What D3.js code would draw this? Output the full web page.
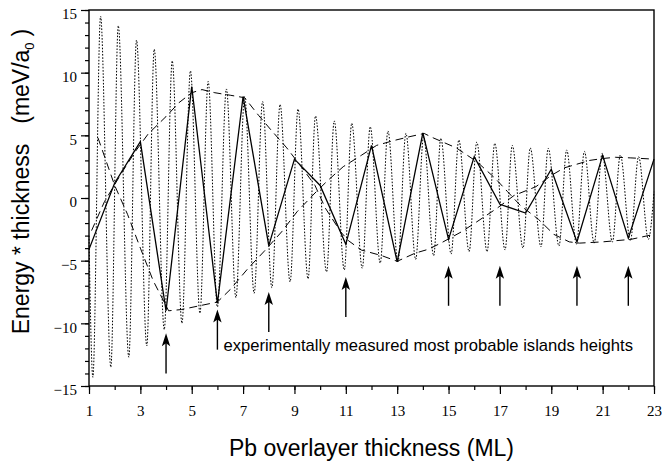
<!DOCTYPE html>
<html>
<head>
<meta charset="utf-8">
<script src="https://cdn.jsdelivr.net/npm/d3@7"></script>
<style>
  body { margin: 0; background: #fff; }
  svg { display: block; }
</style>
</head>
<body>
<svg></svg>
<script>
// solid line: value at each integer thickness
const layers = d3.range(1, 24);
const energy = [-4.1, 1.2, 4.5, -9.0, 8.9, -8.4, 8.1, -3.8, 3.1, 1.0, -3.7, 4.2,
                -5.1, 5.2, -3.3, 3.3, -0.5, -1.2, 2.3, -3.5, 3.4, -3.2, 3.1];

// dotted continuous oscillation, read as its extrema
const oscX = [1.0, 1.15, 1.45, 1.85, 2.14, 2.55, 2.85, 3.25, 3.54, 3.93, 4.24, 4.62, 4.95,
              5.32, 5.64, 6.0, 6.35, 6.72, 7.06, 7.43, 7.76, 8.12, 8.44, 8.83, 9.14, 9.53,
              9.82, 10.25, 10.55, 10.94, 11.23, 11.64, 11.95, 12.34, 12.64, 13.03, 13.34,
              13.72, 14.03, 14.42, 14.7, 15.1, 15.4, 15.8, 16.1, 16.5, 16.8, 17.2, 17.48,
              17.9, 18.18, 18.6, 18.88, 19.3, 19.6, 19.98, 20.29, 20.67, 20.98, 21.38,
              21.69, 22.08, 22.4, 22.78, 23.0];
const oscY = [-3.0, -14.3, 14.5, -13.5, 13.75, -12.7, 12.6, -11.8, 11.87, -10.5, 10.95, -10.0, 10.15,
              -9.2, 9.3, -8.7, 8.7, -7.95, 8.1, -7.6, 7.7, -7.16, 7.47, -6.7, 7.1, -6.45,
              6.55, -5.9, 6.15, -5.75, 5.96, -5.6, 5.69, -5.2, 5.35, -5.1, 5.16,
              -4.9, 4.9, -4.6, 4.76, -4.47, 4.63, -4.28, 4.46, -4.28, 4.36, -4.15, 4.2,
              -4.0, 4.0, -3.9, 3.97, -3.83, 3.83, -3.7, 3.72, -3.6, 3.56, -3.5,
              3.43, -3.4, 3.3, -3.3, 0.5];

// dashed envelope curves
const envAX = [1.35, 2.0, 2.5, 3.0, 3.5, 4.1, 4.6, 5.3, 6.0, 6.5, 7.2, 7.8, 8.5, 9.1, 9.8, 10.3,
               10.9, 11.6, 12.2, 12.9, 13.5, 14.05, 14.4, 15.3, 16.1, 16.8, 17.3, 17.8, 18.5,
               19.1, 19.7, 20.1, 21.0, 22.1, 23.0];
const envAY = [4.8, 1.0, -1.3, -4.0, -6.6, -9.0, -8.9, -8.6, -8.3, -7.3, -5.6, -4.3, -2.7, -1.1, 0.4, 1.4,
               2.5, 3.4, 4.2, 4.6, 4.9, 5.15, 4.8, 4.0, 2.9, 1.6, 0.5, -0.6, -1.7,
               -2.9, -3.5, -3.6, -3.5, -3.3, -2.9];
const envBX = [1.1, 1.6, 2.3, 2.8, 3.3, 4.0, 4.5, 5.0, 5.4, 5.9, 6.5, 7.06, 7.6, 8.1, 8.7, 9.3,
               9.8, 10.2, 10.8, 11.1, 11.6, 12.4, 13.0, 13.7, 14.2, 14.7, 15.5, 16.1, 16.9,
               17.55, 18.4, 19.0, 19.5, 20.0, 20.5, 21.0, 21.5, 22.1, 23.0];
const envBY = [-2.6, -0.3, 2.1, 3.7, 5.1, 6.5, 7.6, 8.4, 8.65, 8.4, 8.2, 8.0, 6.6, 5.4, 4.0, 2.4,
               1.0, -0.8, -2.7, -3.4, -4.15, -4.6, -5.05, -4.4, -4.1, -3.6, -2.7, -1.9, -0.8,
               0.2, 0.9, 1.8, 2.4, 2.7, 3.0, 3.15, 3.25, 3.2, 3.1];

// measured island heights (arrows)
const arrowX = [4, 6, 8, 11, 15, 17, 20, 22];
const arrowTip = [-10.8, -8.9, -7.5, -6.3, -5.4, -5.4, -5.4, -5.4];
const arrowBase = [-14.0, -12.1, -10.7, -9.5, -8.6, -8.6, -8.6, -8.6];

const xTickLabels = [1, 3, 5, 7, 9, 11, 13, 15, 17, 19, 21, 23];
const yTickLabels = [-15, -10, -5, 0, 5, 10, 15];

const width = 662;
const height = 470;
const plotLeft = 89, plotRight = 654, plotTop = 10, plotBottom = 386;
const serif = "'Liberation Serif', 'Times New Roman', serif";
const sans = "'Liberation Sans', Arial, sans-serif";

const xScale = d3.scaleLinear().domain([1, 23]).range([plotLeft, plotRight]);
const yScale = d3.scaleLinear().domain([-15, 15]).range([plotBottom, plotTop]);

const svg = d3.select("svg")
              .attr("width", width)
              .attr("height", height);

// minor ticks
svg.append("g")
   .attr("transform", `translate(${plotLeft},0)`)
   .call(d3.axisLeft(yScale).tickValues(d3.range(-15, 16)).tickSize(4).tickFormat(""))
   .call(g => g.select(".domain").remove());
svg.append("g")
   .attr("transform", `translate(0,${plotBottom})`)
   .call(d3.axisBottom(xScale).tickValues(layers).tickSize(4).tickFormat(""))
   .call(g => g.select(".domain").remove());

// major ticks + labels
const yAxisG = svg.append("g")
   .attr("transform", `translate(${plotLeft},0)`)
   .call(d3.axisLeft(yScale).tickValues(yTickLabels).tickSize(8).tickPadding(4))
   .call(g => g.select(".domain").remove());
yAxisG.selectAll("text").attr("dy", "0.58em");

svg.append("g")
   .attr("transform", `translate(0,${plotBottom})`)
   .call(d3.axisBottom(xScale).tickValues(xTickLabels).tickSize(8).tickPadding(11))
   .call(g => g.select(".domain").remove());

svg.selectAll(".tick text")
   .style("font-family", serif)
   .style("font-size", "15px")
   .attr("fill", "#000");
svg.selectAll(".tick line").attr("stroke", "#000").attr("stroke-width", 1.2);

// frame
svg.append("rect")
   .attr("x", plotLeft).attr("y", plotTop)
   .attr("width", plotRight - plotLeft).attr("height", plotBottom - plotTop)
   .attr("fill", "none").attr("stroke", "#000").attr("stroke-width", 1.4);

// dotted oscillation
const oscLine = d3.line()
                  .x(d => xScale(d[0]))
                  .y(d => yScale(d[1]))
                  .curve(d3.curveMonotoneX);
svg.append("path")
   .datum(d3.zip(oscX, oscY))
   .attr("d", oscLine)
   .attr("fill", "none")
   .attr("stroke", "#000")
   .attr("stroke-width", 1)
   .attr("stroke-dasharray", "1.6,1.6");

// dashed envelopes
const envLine = d3.line()
                  .x(d => xScale(d[0]))
                  .y(d => yScale(d[1]));
[d3.zip(envAX, envAY), d3.zip(envBX, envBY)].forEach(pts => {
  svg.append("path")
     .datum(pts)
     .attr("d", envLine)
     .attr("fill", "none")
     .attr("stroke", "#000")
     .attr("stroke-width", 1)
     .attr("stroke-dasharray", "8,5");
});

// solid line
svg.append("path")
   .datum(d3.zip(layers, energy))
   .attr("d", envLine)
   .attr("fill", "none")
   .attr("stroke", "#000")
   .attr("stroke-width", 1.3);

// arrows
const arrows = svg.selectAll(".arrow")
   .data(d3.zip(arrowX, arrowTip, arrowBase))
   .enter()
   .append("g")
   .attr("class", "arrow");
arrows.append("line")
   .attr("x1", d => xScale(d[0]))
   .attr("x2", d => xScale(d[0]))
   .attr("y1", d => yScale(d[1]) + 8)
   .attr("y2", d => yScale(d[2]))
   .attr("stroke", "#000")
   .attr("stroke-width", 1.4);
arrows.append("path")
   .attr("d", d => {
     const x = xScale(d[0]), y = yScale(d[1]);
     return `M${x},${y} L${x - 4.2},${y + 13} L${x},${y + 10} L${x + 4.2},${y + 13} Z`;
   })
   .attr("fill", "#000");

svg.append("text")
   .attr("x", xScale(6) + 6)
   .attr("y", 351)
   .style("font-family", sans)
   .style("font-size", "16.6px")
   .text("experimentally measured most probable islands heights");

// axis titles
svg.append("text")
   .attr("x", (plotLeft + plotRight) / 2)
   .attr("y", 456)
   .attr("text-anchor", "middle")
   .style("font-family", sans)
   .style("font-size", "23px")
   .text("Pb overlayer thickness (ML)");

const yTitle = svg.append("text")
   .attr("transform", "rotate(-90)")
   .attr("x", -181.5)
   .attr("y", 29)
   .attr("text-anchor", "middle")
   .style("font-family", sans)
   .style("font-size", "23px");
yTitle.append("tspan").text("Energy * thickness");
yTitle.append("tspan").attr("dx", 20).text("(meV/a");
yTitle.append("tspan").style("font-size", "13px").attr("dy", 5).text("0");
yTitle.append("tspan").attr("dy", -5).attr("dx", 6).text(")");
</script>
</body>
</html>
